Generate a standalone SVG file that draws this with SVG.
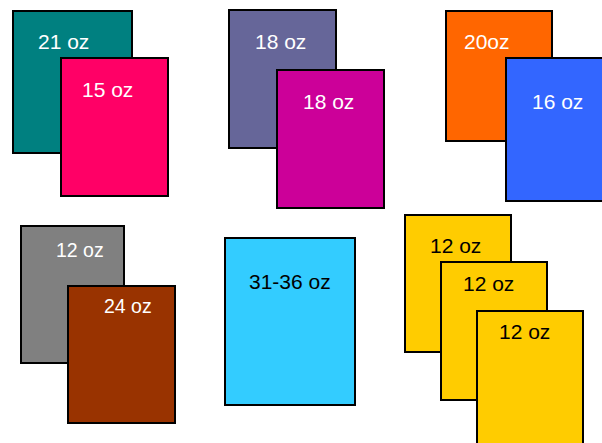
<svg xmlns="http://www.w3.org/2000/svg" width="602" height="443" viewBox="0 0 602 443">
<style>
.c{stroke:#000;stroke-width:2}
.t{font-family:"Liberation Sans",Arial,sans-serif;font-size:21px}
.w{fill:#fff}
.k{fill:#000}
</style>
<rect width="602" height="443" fill="#fff"/>
<g id="g21"><rect class="c" x="13" y="11" width="119" height="142" fill="#008080"/><text class="t w" x="38" y="49">21 oz</text></g>
<g id="g15"><rect class="c" x="61" y="58" width="107" height="138" fill="#FF0066"/><text class="t w" x="82" y="97">15 oz</text></g>
<g id="g18a"><rect class="c" x="229" y="10" width="107" height="138" fill="#666699"/><text class="t w" x="255" y="49">18 oz</text></g>
<g id="g18b"><rect class="c" x="277" y="70" width="107" height="138" fill="#CC0099"/><text class="t w" x="303" y="109">18 oz</text></g>
<g id="g20"><rect class="c" x="446" y="11" width="106" height="130" fill="#FF6600"/><text class="t w" x="464" y="49">20oz</text></g>
<g id="g16"><rect class="c" x="506" y="58" width="106" height="143" fill="#3366FF"/><text class="t w" x="532" y="109">16 oz</text></g>
<g id="g12g"><rect class="c" x="21" y="226" width="103" height="137" fill="#808080"/><text class="t w" x="56" y="257" style="font-size:19.5px">12 oz</text></g>
<g id="g24"><rect class="c" x="68" y="286" width="107" height="137" fill="#993300"/><text class="t w" x="104" y="313" style="font-size:19.5px">24 oz</text></g>
<g id="g31"><rect class="c" x="225" y="238" width="130" height="167" fill="#33CCFF"/><text class="t k" x="249" y="289">31-36 oz</text></g>
<g id="gy1"><rect class="c" x="405" y="215" width="106" height="137" fill="#FFCC00"/><text class="t k" x="430" y="253">12 oz</text></g>
<g id="gy2"><rect class="c" x="441" y="262" width="106" height="138" fill="#FFCC00"/><text class="t k" x="463" y="291">12 oz</text></g>
<g id="gy3"><rect class="c" x="477" y="311" width="106" height="140" fill="#FFCC00"/><text class="t k" x="499" y="339">12 oz</text></g>
<g id="connectors"/>
</svg>
